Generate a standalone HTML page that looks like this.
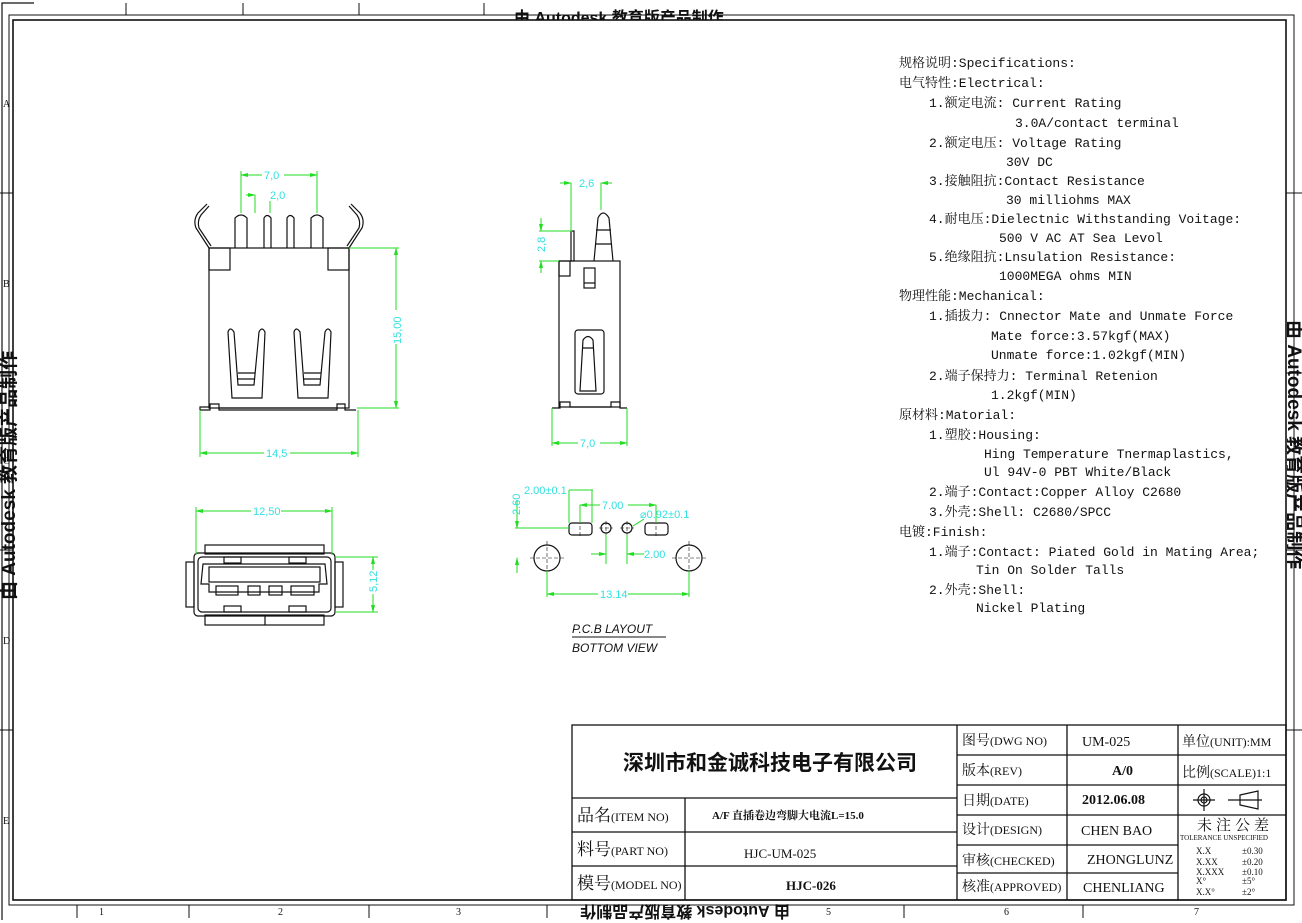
<!DOCTYPE html>
<html><head><meta charset="utf-8"><style>
html,body{margin:0;padding:0;background:#fff;}
svg{display:block;}
.t{font-family:"Liberation Mono","Noto Serif CJK SC",monospace;font-size:13px;fill:#111;}
.c{font-family:"Liberation Serif","Noto Serif CJK SC",serif;fill:#111;}
.d{font-family:"Liberation Sans",sans-serif;font-size:11px;fill:#33e0e0;}
.g{stroke:#22dd22;stroke-width:1;fill:none;}
.k{stroke:#111;stroke-width:1.2;fill:none;}
</style></head><body>
<svg width="1302" height="923" viewBox="0 0 1302 923" xmlns="http://www.w3.org/2000/svg">
<defs>
<clipPath id="cp"><rect x="0" y="9" width="1302" height="11"/></clipPath>
<clipPath id="cp2"><rect x="1287" y="0" width="15" height="923"/></clipPath>
<marker id="a" markerWidth="8" markerHeight="6" refX="7" refY="3" orient="auto-start-reverse" markerUnits="userSpaceOnUse"><path d="M0,1 L8,3 L0,5" fill="#22dd22"/></marker>
</defs>
<rect width="1302" height="923" fill="#fff"/>
<!-- frame -->
<polyline class="k" points="2,920 2,3 34,3" stroke-width="1"/>
<rect x="9" y="15" width="1285" height="890" fill="none" stroke="#111" stroke-width="1"/>
<g stroke="#111" stroke-width="1">
<line x1="126" y1="3" x2="126" y2="15"/><line x1="243" y1="3" x2="243" y2="15"/><line x1="359" y1="3" x2="359" y2="15"/><line x1="484" y1="3" x2="484" y2="15"/>
<line x1="77" y1="905" x2="77" y2="918"/><line x1="189" y1="905" x2="189" y2="918"/><line x1="369" y1="905" x2="369" y2="918"/><line x1="547" y1="905" x2="547" y2="918"/>
<line x1="726" y1="905" x2="726" y2="918"/><line x1="904" y1="905" x2="904" y2="918"/><line x1="1083" y1="905" x2="1083" y2="918"/>
<line x1="0" y1="193" x2="13" y2="193"/><line x1="0" y1="373" x2="13" y2="373"/><line x1="0" y1="550" x2="13" y2="550"/><line x1="0" y1="730" x2="13" y2="730"/>
<line x1="1286" y1="193" x2="1302" y2="193"/><line x1="1286" y1="373" x2="1302" y2="373"/><line x1="1286" y1="550" x2="1302" y2="550"/><line x1="1286" y1="730" x2="1302" y2="730"/>
</g>
<g class="c" font-size="10">
<text x="3" y="107">A</text><text x="3" y="287">B</text><text x="3" y="464">C</text><text x="3" y="644">D</text><text x="3" y="824">E</text>
<text x="99" y="915">1</text><text x="278" y="915">2</text><text x="456" y="915">3</text><text x="826" y="915">5</text><text x="1004" y="915">6</text><text x="1194" y="915">7</text>
</g>
<text transform="translate(15,600) rotate(-90)" font-family="Liberation Sans,Noto Sans CJK SC,sans-serif" font-size="19" font-weight="bold" fill="#111">由 Autodesk 教育版产品制作</text>
<text transform="translate(790,906) rotate(180)" font-family="Liberation Sans,Noto Sans CJK SC,sans-serif" font-size="16" font-weight="bold" fill="#111">由 Autodesk 教育版产品制作</text>
<text x="514" y="23" font-family="Liberation Sans,Noto Sans CJK SC,sans-serif" font-size="16" font-weight="bold" fill="#111" clip-path="url(#cp)">由 Autodesk 教育版产品制作</text>
<g clip-path="url(#cp2)"><text transform="translate(1288,320) rotate(90)" font-family="Liberation Sans,Noto Sans CJK SC,sans-serif" font-size="19" font-weight="bold" fill="#111">由 Autodesk 教育版产品制作</text></g>
<rect x="13" y="20" width="1273" height="880" fill="none" stroke="#111" stroke-width="1.6"/>

<!-- Front view -->
<g class="k">
<rect x="209" y="248" width="140" height="160"/>
<rect x="209" y="248" width="21" height="22"/><rect x="328" y="248" width="21" height="22"/>
<path d="M235,248 V218 Q241,212 247,218 V248"/>
<path d="M264,248 V218 Q267,213 271,218 V248"/>
<path d="M287,248 V218 Q290,213 294,218 V248"/>
<path d="M311,248 V218 Q317,212 323,218 V248"/>
<path d="M209,248 L196,228 Q193,220 198,213 L207,204 M211,246 L199,228 Q197,221 201,215 L209,206"/>
<path d="M349,248 L362,228 Q365,220 360,213 L351,204 M347,246 L359,228 Q361,221 357,215 L349,206"/>
<path d="M200,410 H210 V404 H219 V410 H337 V404 H345 V410 H356 M200,410 V407 H209"/>
<line x1="219" y1="408" x2="337" y2="408"/>
<path d="M228,332 Q230,326 234,332 L238,385 H254 L259,332 Q262,326 265,332 L262,398 H232 Z"/>
<path d="M238,373 H255 M238,379 H255"/>
<path d="M294,332 Q296,326 300,332 L304,385 H320 L325,332 Q328,326 331,332 L328,398 H298 Z"/>
<path d="M304,373 H321 M304,379 H321"/>
</g>
<g class="g">
<path d="M241,171 V213 M317,171 V213 M349,248 H399 M357,408 H399 M200,410 V457 M358,410 V457"/>
<path d="M241,175 H317" marker-start="url(#a)" marker-end="url(#a)"/>
<path d="M255,195 V213 M270,195 V213"/>
<path d="M246,195 H255" marker-end="url(#a)"/><path d="M280,195 H270" marker-end="url(#a)"/>
<path d="M396,248 V408" marker-start="url(#a)" marker-end="url(#a)"/>
<path d="M200,453 H358" marker-start="url(#a)" marker-end="url(#a)"/>
</g>
<rect x="262" y="169" width="22" height="12" fill="#fff"/><text class="d" x="264" y="179">7,0</text>
<rect x="268" y="189" width="20" height="12" fill="#fff"/><text class="d" x="270" y="199">2,0</text>
<rect x="391" y="310" width="12" height="34" fill="#fff"/><text class="d" transform="translate(401,344) rotate(-90)">15,00</text>
<rect x="264" y="447" width="26" height="12" fill="#fff"/><text class="d" x="266" y="457">14,5</text>

<!-- Side view -->
<g class="k">
<rect x="559" y="261" width="61" height="146"/>
<rect x="559" y="261" width="11" height="15"/>
<rect x="571" y="231" width="3" height="30"/>
<path d="M594,261 L598,218 Q603,208 609,218 L613,261 M596,230 H611 M595,244 H612"/>
<rect x="584" y="268" width="11" height="20"/><line x1="584" y1="283" x2="595" y2="283"/>
<rect x="575" y="330" width="29" height="64" rx="3"/>
<path d="M580,391 L583,340 Q588,333 593,340 L596,391 Z M583,348 H593"/>
<path d="M552,408 H560 V402 H570 V407 H611 V402 H620 V408 H627"/>
</g>
<g class="g">
<path d="M552,408 V446 M627,408 V446"/>
<path d="M552,443 H627" marker-start="url(#a)" marker-end="url(#a)"/>
<path d="M571,183 V231 M601,183 V210"/>
<path d="M560,183 H571" marker-end="url(#a)"/><path d="M612,183 H601" marker-end="url(#a)"/>
<path d="M539,231 H572 M539,261 H559"/>
<path d="M541,218 V231" marker-end="url(#a)"/><path d="M541,273 V261" marker-end="url(#a)"/>
</g>
<rect x="578" y="437" width="22" height="12" fill="#fff"/><text class="d" x="580" y="447">7,0</text>
<rect x="576" y="177" width="22" height="12" fill="#fff"/><text class="d" x="579" y="187">2,6</text>
<rect x="535" y="234" width="12" height="20" fill="#fff"/><text class="d" transform="translate(545,252) rotate(-90)">2,8</text>

<!-- Bottom view -->
<g class="k">
<rect x="205" y="545" width="119" height="9"/>
<rect x="194" y="553" width="141" height="63" rx="4"/>
<rect x="198" y="557" width="133" height="55" rx="4"/>
<rect x="186" y="562" width="8" height="45"/><rect x="335" y="562" width="8" height="45"/>
<path d="M203,564 H325 L327,584 H319 V592 H209 V584 H201 Z"/>
<rect x="209" y="567" width="111" height="15"/>
<rect x="216" y="586" width="22" height="9"/><rect x="248" y="586" width="12" height="9"/><rect x="269" y="586" width="13" height="9"/><rect x="291" y="586" width="23" height="9"/>
<rect x="224" y="557" width="17" height="6"/><rect x="289" y="557" width="17" height="6"/>
<rect x="224" y="606" width="17" height="6"/><rect x="289" y="606" width="17" height="6"/>
<rect x="205" y="615" width="119" height="10"/><line x1="265" y1="615" x2="265" y2="625"/>
</g>
<g class="g">
<path d="M196,507 V555 M332,507 V555 M335,557 H378 M335,612 H378"/>
<path d="M196,511 H332" marker-start="url(#a)" marker-end="url(#a)"/>
<path d="M373,557 V612" marker-start="url(#a)" marker-end="url(#a)"/>
</g>
<rect x="251" y="505" width="30" height="12" fill="#fff"/><text class="d" x="253" y="515">12,50</text>
<rect x="367" y="570" width="12" height="24" fill="#fff"/><text class="d" transform="translate(377,592) rotate(-90)">5,12</text>

<!-- PCB layout -->
<g class="k">
<rect x="569" y="523" width="23" height="12" rx="3"/>
<rect x="645" y="523" width="23" height="12" rx="3"/>
<circle cx="606" cy="528" r="5"/><circle cx="627" cy="528" r="5"/>
<circle cx="547" cy="558" r="13"/><circle cx="689" cy="558" r="13"/>
</g>
<g stroke="#111" stroke-width="0.6" stroke-dasharray="4,2">
<path d="M599,528 H613 M606,521 V535 M620,528 H634 M627,521 V535 M530,558 H564 M547,541 V575 M672,558 H706 M689,541 V575 M580,520 V538 M656,520 V538"/>
</g>
<g class="g">
<path d="M515,528 H569 M569,490 V523 M592,490 V523 M569,490 H593"/>
<path d="M517,500 V528" marker-end="url(#a)"/>
<path d="M580,505 H656" marker-start="url(#a)" marker-end="url(#a)"/>
<path d="M580,505 V523 M656,505 V523"/>
<path d="M644,519 L633,526"/>
<path d="M606,535 V564 M627,535 V564"/>
<path d="M591,554 H606" marker-end="url(#a)"/><path d="M644,554 H627" marker-end="url(#a)"/>
<path d="M547,571 V597 M689,571 V597"/>
<path d="M547,594 H689" marker-start="url(#a)" marker-end="url(#a)"/>
<path d="M517,573 V558" marker-end="url(#a)"/>
</g>
<text class="d" x="524" y="494" font-family="Liberation Mono" font-size="9">2.00±0.1</text>
<text class="d" transform="translate(520,515) rotate(-90)">2.60</text>
<rect x="600" y="499" width="28" height="12" fill="#fff"/><text class="d" x="602" y="509">7.00</text>
<text class="d" x="640" y="518" font-size="9">⌀0.92±0.1</text>
<text class="d" x="644" y="558">2.00</text>
<rect x="598" y="588" width="30" height="12" fill="#fff"/><text class="d" x="600" y="598">13.14</text>
<text x="572" y="633" font-family="Liberation Sans,sans-serif" font-size="12" font-style="italic" fill="#111">P.C.B  LAYOUT</text>
<line x1="572" y1="637" x2="666" y2="637" stroke="#111"/>
<text x="572" y="652" font-family="Liberation Sans,sans-serif" font-size="12" font-style="italic" fill="#111">BOTTOM  VIEW</text>

<!-- Specs -->
<g class="t">
<text x="899" y="67">规格说明:Specifications:</text>
<text x="899" y="87">电气特性:Electrical:</text>
<text x="929" y="107">1.额定电流: Current Rating</text>
<text x="1015" y="127">3.0A/contact terminal</text>
<text x="929" y="147">2.额定电压: Voltage Rating</text>
<text x="1006" y="166">30V DC</text>
<text x="929" y="185">3.接触阻抗:Contact Resistance</text>
<text x="1006" y="204">30 milliohms MAX</text>
<text x="929" y="223">4.耐电压:Dielectnic Withstanding Voitage:</text>
<text x="999" y="242">500 V AC AT Sea Levol</text>
<text x="929" y="261">5.绝缘阻抗:Lnsulation Resistance:</text>
<text x="999" y="280">1000MEGA ohms MIN</text>
<text x="899" y="300">物理性能:Mechanical:</text>
<text x="929" y="320">1.插拔力: Cnnector Mate and Unmate Force</text>
<text x="991" y="340">Mate force:3.57kgf(MAX)</text>
<text x="991" y="359">Unmate force:1.02kgf(MIN)</text>
<text x="929" y="380">2.端子保持力: Terminal Retenion</text>
<text x="991" y="399">1.2kgf(MIN)</text>
<text x="899" y="419">原材料:Matorial:</text>
<text x="929" y="439">1.塑胶:Housing:</text>
<text x="984" y="458">Hing Temperature  Tnermaplastics,</text>
<text x="984" y="476">Ul 94V-0  PBT White/Black</text>
<text x="929" y="496">2.端子:Contact:Copper Alloy C2680</text>
<text x="929" y="516">3.外壳:Shell: C2680/SPCC</text>
<text x="899" y="536">电镀:Finish:</text>
<text x="929" y="556">1.端子:Contact: Piated Gold in Mating Area;</text>
<text x="976" y="574">Tin On Solder Talls</text>
<text x="929" y="594">2.外壳:Shell:</text>
<text x="976" y="612">Nickel Plating</text>
</g>

<!-- Title block -->
<g stroke="#111" stroke-width="1.3" fill="none">
<rect x="572" y="725" width="714" height="175"/>
<line x1="572" y1="798" x2="957" y2="798"/>
<line x1="572" y1="832" x2="957" y2="832"/>
<line x1="572" y1="866" x2="957" y2="866"/>
<line x1="685" y1="798" x2="685" y2="900"/>
<line x1="957" y1="725" x2="957" y2="900"/>
<line x1="1067" y1="725" x2="1067" y2="900"/>
<line x1="1178" y1="725" x2="1178" y2="900"/>
<line x1="957" y1="755" x2="1286" y2="755"/>
<line x1="957" y1="785" x2="1286" y2="785"/>
<line x1="957" y1="815" x2="1286" y2="815"/>
<line x1="957" y1="845" x2="1178" y2="845"/>
<line x1="957" y1="873" x2="1178" y2="873"/>
</g>
<text x="623" y="770" font-family="Liberation Sans,Noto Sans CJK SC,sans-serif" font-size="21" font-weight="bold" fill="#111">深圳市和金诚科技电子有限公司</text>
<g class="c" font-size="12">
<text x="577" y="821"><tspan font-size="17">品名</tspan>(ITEM NO)</text>
<text x="577" y="855"><tspan font-size="17">料号</tspan>(PART NO)</text>
<text x="577" y="889"><tspan font-size="17">模号</tspan>(MODEL NO)</text>
<text x="712" y="819" font-weight="bold" font-size="11">A/F 直插卷边弯脚大电流L=15.0</text>
<text x="744" y="858" font-size="13">HJC-UM-025</text>
<text x="786" y="890" font-weight="bold" font-size="13">HJC-026</text>
<text x="962" y="745"><tspan font-size="14">图号</tspan>(DWG NO)</text>
<text x="962" y="775"><tspan font-size="14">版本</tspan>(REV)</text>
<text x="962" y="805"><tspan font-size="14">日期</tspan>(DATE)</text>
<text x="962" y="834"><tspan font-size="14">设计</tspan>(DESIGN)</text>
<text x="962" y="865"><tspan font-size="14">审核</tspan>(CHECKED)</text>
<text x="962" y="891"><tspan font-size="14">核准</tspan>(APPROVED)</text>
<text x="1082" y="746" font-size="14">UM-025</text>
<text x="1112" y="775" font-size="14" font-weight="bold">A/0</text>
<text x="1082" y="804" font-size="14" font-weight="bold">2012.06.08</text>
<text x="1081" y="835" font-size="14">CHEN BAO</text>
<text x="1087" y="864" font-size="14">ZHONGLUNZ</text>
<text x="1083" y="892" font-size="14">CHENLIANG</text>
<text x="1182" y="746"><tspan font-size="14">单位</tspan>(UNIT):MM</text>
<text x="1182" y="777"><tspan font-size="14">比例</tspan>(SCALE)1:1</text>
<text x="1197" y="830" font-size="15" letter-spacing="4">未注公差</text>
<text x="1180" y="840" font-size="7">TOLERANCE UNSPECIFIED</text>
<g font-size="9"><text x="1196" y="854">X.X</text><text x="1242" y="854">±0.30</text>
<text x="1196" y="865">X.XX</text><text x="1242" y="865">±0.20</text>
<text x="1196" y="875">X.XXX</text><text x="1242" y="875">±0.10</text>
<text x="1196" y="884">X°</text><text x="1242" y="884">±5°</text>
<text x="1196" y="895">X.X°</text><text x="1242" y="895">±2°</text></g>
</g>
<g stroke="#111" stroke-width="1.2" fill="none">
<circle cx="1204" cy="800" r="6"/><circle cx="1204" cy="800" r="3"/>
<path d="M1193,800 H1215 M1204,789 V811"/>
<path d="M1228,800 H1262 M1240,795 L1258,791 V809 L1240,805 Z"/>
</g>
</svg>
</body></html>
